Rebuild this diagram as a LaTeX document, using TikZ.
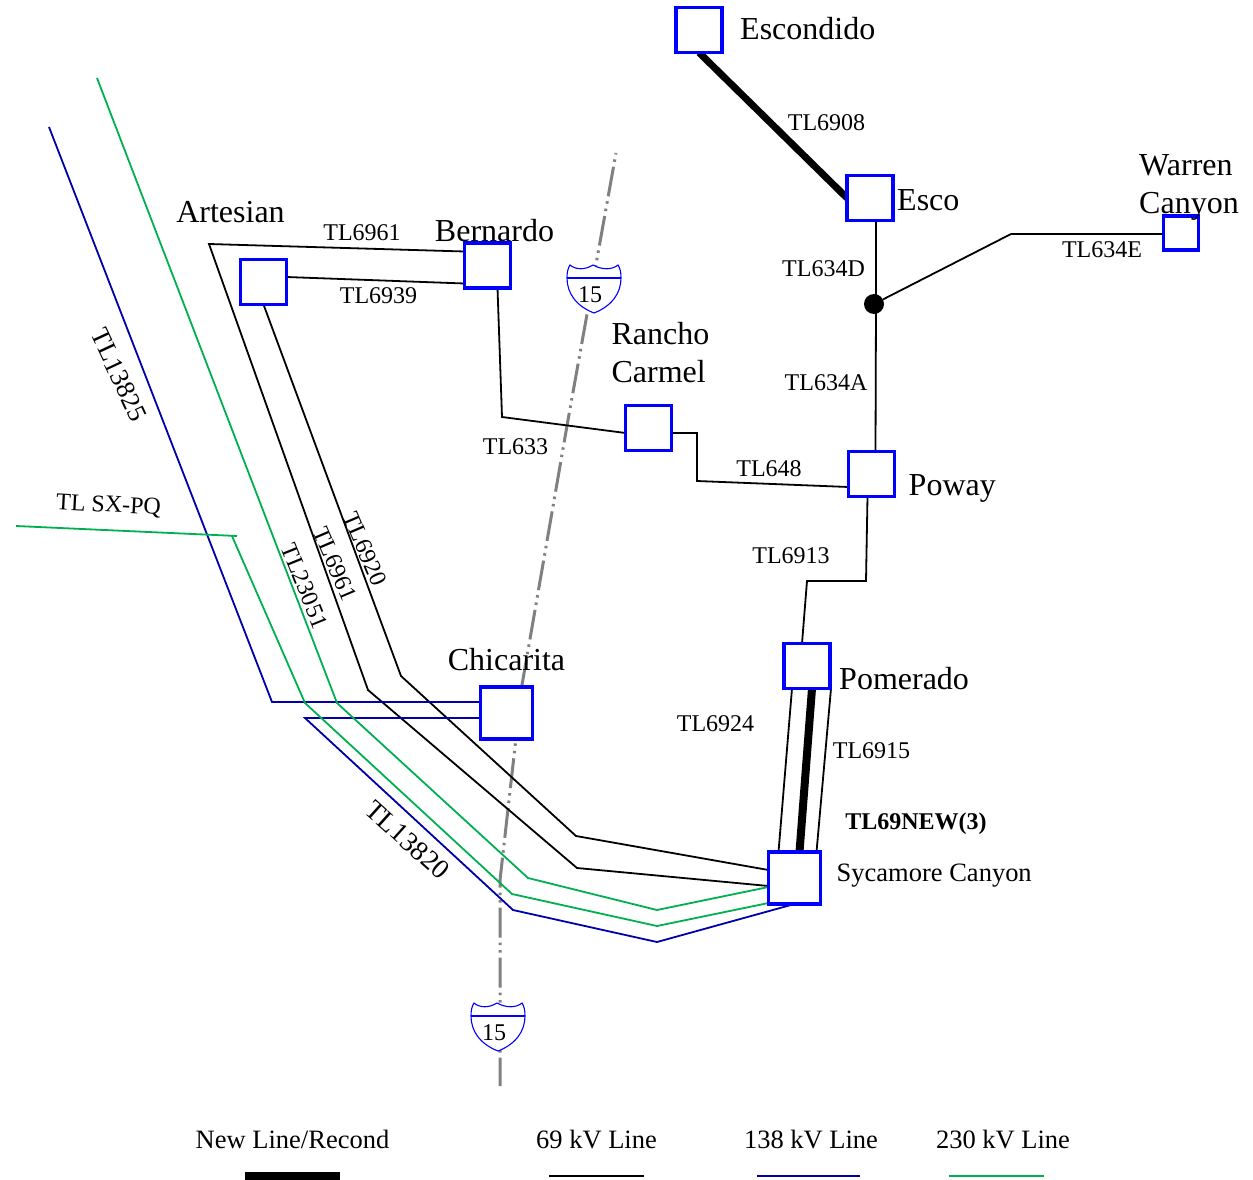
\documentclass[tikz,border=0pt]{standalone}
\usepackage{fontspec}
\setmainfont{Liberation Serif}
\usetikzlibrary{positioning, backgrounds}

\begin{document}
\begin{tikzpicture}[
    x=1pt, y=-1pt,
    station/.style = {rectangle, draw=stationblue, line width=3.5pt, fill=white, minimum width=46pt, minimum height=45pt, inner sep=0pt, outer sep=0pt},
    bigstation/.style = {station, minimum width=52pt, minimum height=52pt},
    smallstation/.style = {station, minimum width=35pt, minimum height=34pt},
    namelabel/.style = {inner sep=0pt, align=left, font=\fontsize{32}{38.5}\selectfont},
    linelabel/.style = {inner sep=0pt, font=\fontsize{24}{28}\selectfont},
    sidelabel/.style = {inner sep=0pt, font=\fontsize{26.5}{30}\selectfont},
    line69/.style = {draw, line width=1.8pt, line join=miter},
    line138/.style = {draw=navyline, line width=1.8pt},
    line230/.style = {draw=greenline, line width=1.8pt},
    newline/.style = {draw, line width=8pt},
    road/.style = {draw=roadgray, line width=3pt, dash pattern=on 30pt off 5pt on 2.5pt off 5pt on 2.5pt off 5pt, dash phase=36pt},
    shield/.pic = {
        \draw [draw=stationblue, line width=1.1pt, fill=white]
            (-27,-12) .. controls (-27,-18) and (-26,-22) .. (-24,-25)
            .. controls (-18,-20) and (-9,-20) .. (-1,-25)
            .. controls (8,-20) and (18,-20) .. (24,-25)
            .. controls (26,-22) and (27,-18) .. (27,-12)
            .. controls (27,3) and (18,16) .. (0,23)
            .. controls (-18,16) and (-27,3) .. (-27,-12) -- cycle;
        \draw [draw=stationblue, line width=1.1pt] (-27,-12) -- (27,-12);
    }
]
    \definecolor{stationblue}{RGB}{0,0,255}
    \definecolor{navyline}{RGB}{0,0,170}
    \definecolor{greenline}{RGB}{0,176,80}
    \definecolor{roadgray}{RGB}{128,128,128}

    \useasboundingbox (0,0) rectangle (1253,1180);

    % Stations
    \node (escondido) [station] at (699,30) {};
    \node (esco) [station] at (870,198) {};
    \node (warren) [smallstation] at (1181,233) {};
    \node (bernardo) [station] at (487.5,265.5) {};
    \node (artesian) [station] at (263.5,282) {};
    \node (rancho) [station] at (648.5,428) {};
    \node (poway) [station] at (871.5,474) {};
    \node (pomerado) [station] at (807,666) {};
    \node (chicarita) [bigstation] at (506.5,713) {};
    \node (sycamore) [bigstation] at (794.5,878) {};
    \node (tap) [circle, fill=black, inner sep=0pt, minimum size=20pt] at (874,304) {};

    % Station names
    \node (escondido-l) [namelabel, right=18pt of escondido, yshift=1pt] {Escondido};
    \node (esco-l) [namelabel, right=4pt of esco, yshift=-2pt] {Esco};
    \node (warren-l) [namelabel, above=-5pt of warren, xshift=8pt] {Warren\\Canyon};
    \node (artesian-l) [namelabel, above=36pt of artesian, xshift=-33pt] {Artesian};
    \node (bernardo-l) [namelabel, above=1pt of bernardo, xshift=7pt] {Bernardo};
    \node (rancho-l) [namelabel, above=22pt of rancho, xshift=12pt] {Rancho\\Carmel};
    \node (poway-l) [namelabel, right=14pt of poway, yshift=-14pt] {Poway};
    \node (chicarita-l) [namelabel, above=16pt of chicarita] {Chicarita};
    \node (pomerado-l) [namelabel, right=9pt of pomerado, yshift=-13pt] {Pomerado};
    \node (sycamore-l) [sidelabel, right=16pt of sycamore, yshift=2pt] {Sycamore Canyon};

    % Line names
    \node (l6908) [linelabel] at (826.5,123) {TL6908};
    \node (l6961a) [linelabel] at (362,233) {TL6961};
    \node (l6939) [linelabel] at (378.5,296) {TL6939};
    \node (l634d) [linelabel] at (823.5,269) {TL634D};
    \node (l634e) [linelabel] at (1102,250) {TL634E};
    \node (l634a) [linelabel] at (826,383) {TL634A};
    \node (l633) [linelabel] at (515.5,447) {TL633};
    \node (l648) [linelabel] at (769,469) {TL648};
    \node (l6913) [linelabel] at (791,556) {TL6913};
    \node (l6924) [linelabel] at (715.5,724) {TL6924};
    \node (l6915) [linelabel] at (871.5,751) {TL6915};
    \node (lnew) [linelabel, font=\fontsize{24}{28}\selectfont\bfseries] at (916,824) {TL69NEW(3)};
    \node (l13825) [sidelabel, rotate=-65] at (119,375) {TL13825};
    \node (l6920) [linelabel, rotate=-67] at (365,549) {TL6920};
    \node (l6961b) [linelabel, rotate=-67] at (335,564) {TL6961};
    \node (l23051) [linelabel, rotate=-68] at (305,586) {TL23051};
    \node (l13820) [sidelabel, font=\fontsize{27.5}{30}\selectfont, rotate=-42] at (407.5,840) {TL13820};
    \node (lsxpq) [linelabel, rotate=-3] at (108.5,506) {TL SX-PQ};

    % Shields
    \pic at (594,290) {shield};
    \node (shield-n) [linelabel] at (590,295) {15};
    \pic at (498,1028) {shield};
    \node (shield-s) [linelabel] at (494,1033) {15};

    % Legend
    \node (lg-new) [sidelabel] at (292.5,1139) {New Line/Recond};
    \node (lg-69) [sidelabel] at (596.5,1139) {69 kV Line};
    \node (lg-138) [sidelabel] at (811,1139) {138 kV Line};
    \node (lg-230) [sidelabel] at (1003,1139) {230 kV Line};
    \coordinate (lg-a) at (245,1176);
    \coordinate (lg-b) at (340,1176);
    \coordinate (lg-c) at (549,1176);
    \coordinate (lg-d) at (644,1176);
    \coordinate (lg-e) at (757,1176);
    \coordinate (lg-f) at (860,1176);
    \coordinate (lg-g) at (949,1176);
    \coordinate (lg-h) at (1044,1176);

    % Free ends
    \coordinate (road-n) at (616,153);
    \coordinate (road-s) at (500,1086);
    \coordinate (blue-n) at (49,127);
    \coordinate (green-n) at (97,78);
    \coordinate (green-w) at (16,526);

    \begin{scope}[on background layer]
        % Highway
        \path [road] (road-n) -- (568,420) -- (522,685) -- (500,880) -- (road-s);

        % 69 kV
        \path [line69] ([xshift=6pt]esco.south) -- ([xshift=2pt]tap.center);
        \path [line69] ([xshift=2pt]tap.center) -- ([xshift=4pt]poway.north);
        \path [line69] (tap) -- (1011,234) -- (warren.west |- 1011,234);
        \path [line69] ([yshift=14pt]bernardo.west) -- (209,244) -- (368,690) -- (577,868) -- ([yshift=-8pt]sycamore.west);
        \path [line69] (artesian.east) ++(0,-5) -- ([yshift=-18pt]bernardo.west);
        \path [line69] (artesian.south) -- (401,676) -- (576,836) -- ([yshift=8pt]sycamore.west);
        \path [line69] ([xshift=10pt]bernardo.south) -- (502,417) -- ([yshift=-5pt]rancho.west);
        \path [line69] ([yshift=-5pt]rancho.east) -- (697,433) -- (697,481) -- ([yshift=-13pt]poway.west);
        \path [line69] ([xshift=-4pt]poway.south) -- (866,581) -- (807,581) -- ([xshift=-5pt]pomerado.north);
        \path [line69] ([xshift=-15pt]pomerado.south) -- ([xshift=-16pt]sycamore.north);
        \path [line69] ([xshift=24pt]pomerado.south) -- ([xshift=22pt]sycamore.north);

        % 138 kV
        \path [line138] (blue-n) -- (272,702) -- ([yshift=11pt]chicarita.west);
        \path [line138] ([yshift=-5pt]chicarita.west) -- (305,718) -- (513,910) -- (657,942) -- (sycamore.south);

        % 230 kV
        \path [line230] (green-n) -- (337,703) -- (528,878) -- (657,910) -- ([yshift=-9pt]sycamore.west);
        \path [line230] (green-w) -- (237,536);
        \path [line230] (232,536) -- (305,703) -- (512,894) -- (657,926) -- ([yshift=-25pt]sycamore.west);

        % New lines
        \path [newline, line width=7pt] (escondido.south) -- (esco.west);
        \path [newline] ([xshift=5pt]pomerado.south) -- ([xshift=5pt]sycamore.north);
    \end{scope}

    % Legend lines
    \path [newline] (lg-a) -- (lg-b);
    \path [line69] (lg-c) -- (lg-d);
    \path [line138] (lg-e) -- (lg-f);
    \path [line230] (lg-g) -- (lg-h);
\end{tikzpicture}
\end{document}
